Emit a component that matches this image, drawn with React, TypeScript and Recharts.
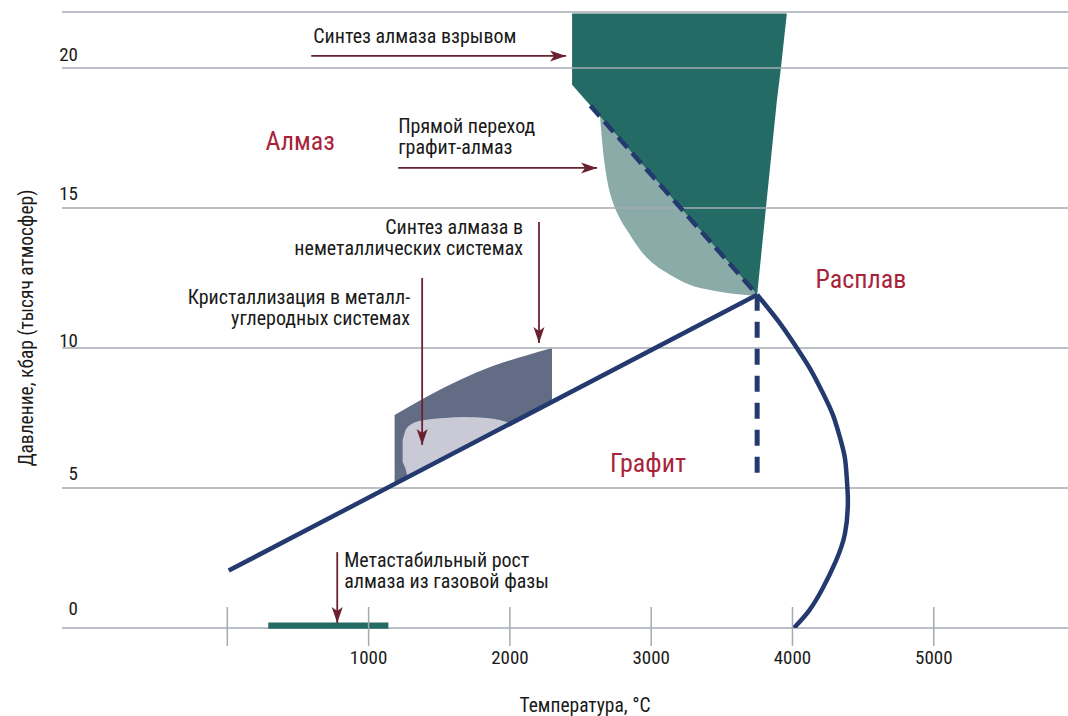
import React from "react";
import {
  ComposedChart,
  Area,
  Line,
  XAxis,
  YAxis,
  CartesianGrid,
  ReferenceLine,
  ReferenceDot,
  ReferenceArea,
} from "recharts";

const FONT = '"Liberation Sans Narrow", "Roboto Condensed", "DejaVu Sans Condensed", Roboto, sans-serif';

const tempTicks = [0, 1000, 2000, 3000, 4000, 5000];
const pressureTicks = [0, 5, 10, 15, 20];

// области: t — температура, °C; range — [нижняя, верхняя] граница, кбар
const explosionZone = [
  { t: 2440, range: [19.4, 21.95] },
  { t: 3750, range: [11.9, 21.95] },
  { t: 3812, range: [15.0, 21.95] },
  { t: 3890, range: [18.86, 21.95] },
  { t: 3918, range: [20.0, 21.95] },
  { t: 3960, range: [21.95, 21.95] },
];

const directZone = [
  { t: 2638, range: [18.27, 18.27] },
  { t: 2652, range: [17.43, 18.19] },
  { t: 2667, range: [16.71, 18.1] },
  { t: 2688, range: [16.0, 17.98] },
  { t: 2723, range: [15.29, 17.78] },
  { t: 2766, range: [14.75, 17.53] },
  { t: 2837, range: [14.14, 17.13] },
  { t: 2922, range: [13.5, 16.64] },
  { t: 3028, range: [12.96, 16.03] },
  { t: 3135, range: [12.61, 15.42] },
  { t: 3277, range: [12.25, 14.61] },
  { t: 3418, range: [12.07, 13.8] },
  { t: 3596, range: [11.93, 12.78] },
  { t: 3750, range: [11.86, 11.9] },
];

const nonmetalZone = [
  { t: 1184, range: [5.19, 7.61] },
  { t: 1411, range: [5.78, 8.26] },
  { t: 1645, range: [6.39, 8.86] },
  { t: 1879, range: [7.0, 9.36] },
  { t: 2121, range: [7.64, 9.74] },
  { t: 2298, range: [8.1, 10.0] },
];

const metalZone = [
  { t: 1241, range: [5.93, 6.71] },
  { t: 1262, range: [5.68, 7.07] },
  { t: 1277, range: [5.43, 7.18] },
  { t: 1305, range: [5.51, 7.29] },
  { t: 1397, range: [5.75, 7.43] },
  { t: 1539, range: [6.12, 7.5] },
  { t: 1681, range: [6.49, 7.54] },
  { t: 1837, range: [6.89, 7.5] },
  { t: 1929, range: [7.13, 7.43] },
  { t: 2000, range: [7.32, 7.32] },
];

// газовая фаза: диапазон температур
const vaporRange = [290, 1140];

// линии равновесия: t — °C, p — кбар
const graphiteDiamond = [
  { t: 10, p: 2.05 },
  { t: 3750, p: 11.9 },
];
const diamondExtension = [
  { t: 2570, p: 18.65 },
  { t: 3750, p: 11.9 },
];
const graphiteExtension = [
  { t: 3750, p: 11.9 },
  { t: 3750, p: 5.3 },
];
const meltCurve = [
  { t: 3750, p: 11.9 },
  { t: 3904, p: 10.93 },
  { t: 4031, p: 10.0 },
  { t: 4130, p: 9.21 },
  { t: 4215, p: 8.39 },
  { t: 4286, p: 7.61 },
  { t: 4335, p: 6.82 },
  { t: 4371, p: 6.07 },
  { t: 4385, p: 5.29 },
  { t: 4392, p: 4.46 },
  { t: 4371, p: 3.36 },
  { t: 4307, p: 2.39 },
  { t: 4215, p: 1.43 },
  { t: 4116, p: 0.61 },
  { t: 4010, p: 0 },
];

const arrows = [
  { from: { t: 594, p: 20.43 }, to: { t: 2397, p: 20.43 } },
  { from: { t: 1209, p: 16.43 }, to: { t: 2617, p: 16.43 } },
  { from: { t: 2206, p: 14.5 }, to: { t: 2206, p: 10.18 } },
  { from: { t: 1379, p: 12.5 }, to: { t: 1379, p: 6.54 } },
  { from: { t: 778, p: 2.71 }, to: { t: 778, p: 0.18 } },
];

const notes = [
  { t: 608, p: 20.89, anchor: "start", lines: ["Синтез алмаза взрывом"] },
  { t: 1209, p: 17.68, anchor: "start", lines: ["Прямой переход", "графит-алмаз"] },
  { t: 2093, p: 14.07, anchor: "end", lines: ["Синтез алмаза в", "неметаллических системах"] },
  { t: 1294, p: 11.57, anchor: "end", lines: ["Кристаллизация в металл-", "углеродных системах"] },
  { t: 827, p: 2.18, anchor: "start", lines: ["Метастабильный рост", "алмаза из газовой фазы"] },
];

const phases = [
  { t: 516, p: 17.07, name: "Алмаз" },
  { t: 2977, p: 5.57, name: "Графит" },
  { t: 4484, p: 12.14, name: "Расплав" },
];

const GRID = "#a3abb3";
const NAVY = "#243a6f";
const ARROW = "#6b2230";
const RED = "#a8233a";

// подписи по оси давления сидят над линиями сетки
const yLift: Record<number, number> = { 0: 13, 5: 8, 10: 1, 15: 8, 20: 7 };

const YTick = (props: any) => {
  const v = props.payload.value;
  return (
    <text x={78} y={props.y - (yLift[v] ?? 8)} textAnchor="end" fontFamily={FONT} fontSize={19} fill="#1a1a1a">
      {v}
    </text>
  );
};

const XTick = (props: any) => {
  const v = props.payload.value;
  return (
    <g>
      <line x1={props.x} x2={props.x} y1={props.y - 21} y2={props.y + 18} stroke={GRID} strokeWidth={1.5} />
      {v !== 0 && (
        <text x={props.x} y={props.y + 36} textAnchor="middle" fontFamily={FONT} fontSize={19} fill="#1a1a1a">
          {v}
        </text>
      )}
    </g>
  );
};

const arrowHead = (dir: "right" | "down") => (props: any) => {
  const { cx, cy } = props;
  const d =
    dir === "right"
      ? `M${cx},${cy} L${cx - 16},${cy - 5.5} L${cx - 12},${cy} L${cx - 16},${cy + 5.5} Z`
      : `M${cx},${cy} L${cx - 5.5},${cy - 16} L${cx},${cy - 12} L${cx + 5.5},${cy - 16} Z`;
  return <path d={d} fill={ARROW} />;
};

const noteShape = (lines: string[], anchor: string) => (props: any) => (
  <text x={props.cx} y={props.cy} textAnchor={anchor} fontFamily={FONT} fontSize={20} fill="#1a1a1a">
    {lines.map((l, i) => (
      <tspan key={i} x={props.cx} dy={i === 0 ? 0 : 21}>
        {l}
      </tspan>
    ))}
  </text>
);

const phaseShape = (name: string) => (props: any) => (
  <text x={props.cx} y={props.cy} textAnchor="middle" fontFamily={FONT} fontSize={26} fill={RED}>
    {name}
  </text>
);

export default function App() {
  return (
    <div style={{ position: "absolute", left: 0, top: 0, background: "#fff" }}>
      <ComposedChart width={1068} height={716} margin={{ top: 12, right: 0, bottom: 0, left: 0 }}>
        <XAxis
          type="number"
          dataKey="t"
          domain={[-1170, 5950]}
          allowDataOverflow
          ticks={tempTicks}
          interval={0}
          height={88}
          axisLine={false}
          tickLine={false}
          tickSize={0}
          tickMargin={0}
          tick={<XTick />}
          label={{
            content: (p: any) => (
              <text
                x={p.viewBox.x + p.viewBox.width / 2 + 20}
                y={p.viewBox.y + 84}
                textAnchor="middle"
                fontFamily={FONT}
                fontSize={19.5}
                fill="#1a1a1a"
              >
                Температура, °C
              </text>
            ),
          }}
        />
        <YAxis
          type="number"
          dataKey="p"
          domain={[0, 22]}
          allowDataOverflow
          ticks={pressureTicks}
          interval={0}
          width={62}
          axisLine={false}
          tickLine={false}
          tickSize={0}
          tick={<YTick />}
          label={{
            content: (p: any) => {
              const cy = p.viewBox.y + p.viewBox.height / 2 + 8;
              return (
                <text
                  x={33}
                  y={cy}
                  transform={`rotate(-90 33 ${cy})`}
                  textAnchor="middle"
                  fontFamily={FONT}
                  fontSize={19.5}
                  fill="#1a1a1a"
                >
                  Давление, кбар (тысяч атмосфер)
                </text>
              );
            },
          }}
        />

        <Area data={directZone} dataKey="range" type="monotone" fill="#8aaba8" fillOpacity={1} stroke="none" isAnimationActive={false} />
        <Area data={explosionZone} dataKey="range" type="linear" fill="#246b66" fillOpacity={1} stroke="none" isAnimationActive={false} />
        <Area data={nonmetalZone} dataKey="range" type="monotone" fill="#636c85" fillOpacity={1} stroke="none" isAnimationActive={false} />
        <Area data={metalZone} dataKey="range" type="monotone" fill="#c9cad6" fillOpacity={1} stroke="none" isAnimationActive={false} />

        <CartesianGrid vertical={false} stroke={GRID} strokeWidth={1.5} zIndex={150} />

        <ReferenceArea
          x1={vaporRange[0]}
          x2={vaporRange[1]}
          y1={-0.03}
          y2={0.2}
          fill="#246b66"
          fillOpacity={1}
          stroke="none"
          ifOverflow="visible"
          zIndex={300}
        />

        <Line data={graphiteDiamond} dataKey="p" type="linear" stroke={NAVY} strokeWidth={4.5} dot={false} activeDot={false} isAnimationActive={false} />
        <Line data={diamondExtension} dataKey="p" type="linear" stroke={NAVY} strokeWidth={4.5} strokeDasharray="14 7" dot={false} activeDot={false} isAnimationActive={false} />
        <Line data={graphiteExtension} dataKey="p" type="linear" stroke={NAVY} strokeWidth={5} strokeDasharray="16 11" dot={false} activeDot={false} isAnimationActive={false} />
        <Line data={meltCurve} dataKey="p" type="natural" stroke={NAVY} strokeWidth={4.5} dot={false} activeDot={false} isAnimationActive={false} />

        {arrows.map((a, i) => (
          <ReferenceLine
            key={`s${i}`}
            segment={[
              { x: a.from.t, y: a.from.p },
              { x: a.to.t, y: a.to.p },
            ]}
            stroke={ARROW}
            strokeWidth={1.8}
            ifOverflow="visible"
            zIndex={700}
          />
        ))}
        {arrows.map((a, i) => (
          <ReferenceDot
            key={`h${i}`}
            x={a.to.t}
            y={a.to.p}
            r={0}
            ifOverflow="visible"
            shape={arrowHead(a.from.p === a.to.p ? "right" : "down")}
            zIndex={710}
          />
        ))}
        {notes.map((n, i) => (
          <ReferenceDot key={`n${i}`} x={n.t} y={n.p} r={0} ifOverflow="visible" shape={noteShape(n.lines, n.anchor)} zIndex={720} />
        ))}
        {phases.map((ph, i) => (
          <ReferenceDot key={`p${i}`} x={ph.t} y={ph.p} r={0} ifOverflow="visible" shape={phaseShape(ph.name)} zIndex={720} />
        ))}
      </ComposedChart>
    </div>
  );
}
